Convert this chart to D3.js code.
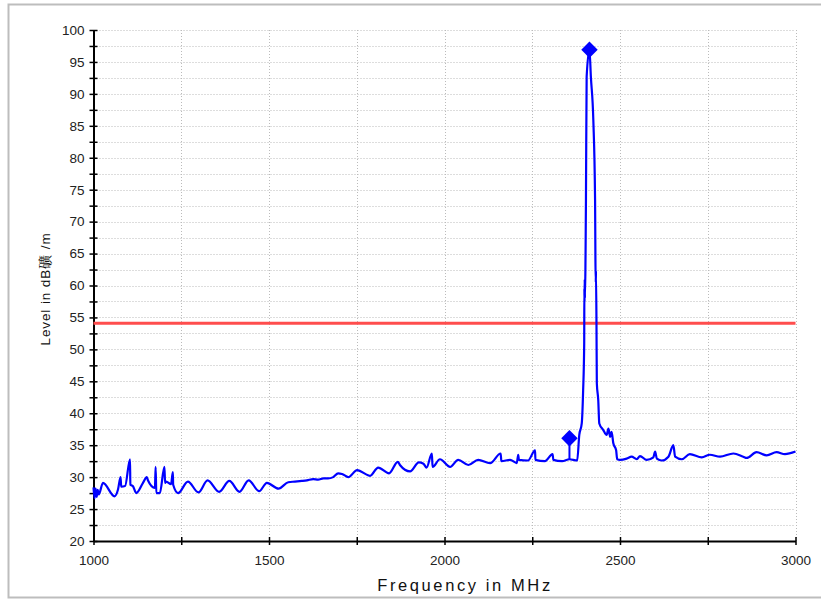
<!DOCTYPE html>
<html>
<head>
<meta charset="utf-8">
<script src="https://cdn.jsdelivr.net/npm/d3@7"></script>
<style>
  html, body { margin: 0; padding: 0; background: #fff; }
  svg { display: block; font-family: "Liberation Sans", Arial, sans-serif; }
</style>
</head>
<body>
<svg id="chart" width="821" height="599"></svg>
<script>
// ---- data ----
const freqMHz = [1000,1003,1006,1009,1012,1015,1027,1060,1070,1077,1079,1090,1104,1105,1112,1122,1141,1152,1155,1175,1177,1179,1189,1202,1204,1207,1221,1226,1227,1241,1269,1299,1325,1358,1387,1416,1442,1472,1494,1527,1555,1574,1593,1608,1626,1640,1655,1668,1683,1697,1708,1726,1751,1782,1788,1811,1842,1867,1873,1902,1927,1940,1949,1964,1966,1987,2016,2039,2068,2096,2130,2160,2162,2187,2206,2210,2212,2238,2258,2259,2286,2308,2310,2335,2356,2378,2384,2391,2395,2398,2398.5,2399,2399.5,2400,2403,2405,2413,2417,2424,2429,2430,2431,2431.5,2433,2434,2438,2441,2452,2462,2467,2472,2476,2481,2489,2492,2500,2519,2533,2548,2557,2576,2595,2600,2605,2619,2638,2652,2657,2676,2699,2733,2756,2785,2823,2851,2861,2889,2918,2946,2970,3000];
const levelDb = [28.4,26.7,28.2,26.9,28.0,27.3,29.1,27.0,28.1,30.0,28.5,28.6,32.8,28.8,28.6,27.5,29.1,30.0,29.5,28.3,31.6,27.5,27.5,31.6,29.1,29.3,28.9,30.8,28.8,27.5,29.3,27.6,29.5,27.7,29.4,27.7,29.5,27.8,29.1,28.2,29.2,29.3,29.4,29.5,29.7,29.6,29.8,29.8,30.0,30.6,30.5,30.0,31.1,30.3,30.2,31.5,30.6,32.4,31.9,30.9,32.3,32.1,31.5,33.7,31.6,32.8,31.6,32.7,31.9,32.7,32.2,33.7,32.5,32.7,32.2,33.5,32.7,32.6,34.2,32.7,32.5,33.6,32.7,32.5,32.8,32.6,36.6,38.4,43.6,50.9,59.5,57.5,61.0,58.0,73.4,92.7,96.9,92.7,85.9,73.4,64.0,60.5,62.3,54.1,44.7,42.1,38.4,37.4,36.6,37.6,36.3,37.1,35.3,34.2,32.8,32.7,32.9,33.2,32.8,33.3,32.7,33.1,34.0,32.9,32.6,33.2,35.0,33.2,32.8,33.6,33.1,33.5,33.2,33.7,33.2,33.0,33.9,33.4,33.9,33.6,34.0];

const markerFreq = [2413, 2356];
const markerLevel = [96.9, 36.1];
const markerBase = [96.9, 32.8];

const limitLevel = 54.1;

const xTicks = [1000,1250,1500,1750,2000,2250,2500,2750,3000];
const xTickLabels = ["1000","","1500","","2000","","2500","","3000"];
const yTicks = [20,22.5,25,27.5,30,32.5,35,37.5,40,42.5,45,47.5,50,52.5,55,57.5,60,62.5,65,67.5,70,72.5,75,77.5,80,82.5,85,87.5,90,92.5,95,97.5,100];
const yTickLabels = yTicks.map(v => v % 5 === 0 ? String(v) : "");

const xTitle = "Frequency in MHz";
const yTitle = "Level in dB礦 /m";

// ---- drawing ----
(function () {
const svg = d3.select("#chart");
const pLeft = 93.5, pRight = 795.5, pTop = 30, pBottom = 541;

const x = d3.scaleLinear().domain([1000, 3000]).range([pLeft, pRight]);
const y = d3.scaleLinear().domain([20, 100]).range([pBottom, pTop]);

// outer frame
svg.append("path")
  .attr("d", "M821,4.5 H8.5 V597.5 H821")
  .attr("fill", "none").attr("stroke", "#bdbdbd").attr("stroke-width", 2);

// grid
const grid = svg.append("g");
grid.selectAll("line.h").data(yTicks.filter(v => v > 20)).join("line")
  .attr("x1", pLeft).attr("x2", pRight)
  .attr("y1", d => Math.round(y(d)) + 0.5).attr("y2", d => Math.round(y(d)) + 0.5)
  .attr("stroke", "#bbbbbb").attr("stroke-width", 1).attr("stroke-dasharray", "1,2");
grid.selectAll("line.v").data(xTicks.filter(v => v > 1000)).join("line")
  .attr("y1", pTop).attr("y2", pBottom)
  .attr("x1", d => Math.round(x(d)) + 0.5).attr("x2", d => Math.round(x(d)) + 0.5)
  .attr("stroke", "#bbbbbb").attr("stroke-width", 1).attr("stroke-dasharray", "1,2");

// y axis
const yAxis = d3.axisLeft(y).tickValues(yTicks)
  .tickFormat((d, i) => yTickLabels[i]).tickSizeInner(4).tickSizeOuter(0).tickPadding(5);
const gy = svg.append("g").attr("transform", `translate(${pLeft},0)`).call(yAxis);
gy.select(".domain").attr("stroke", "#000").attr("stroke-width", 2);
gy.selectAll(".tick line").attr("x1", -4).attr("x2", 4).attr("stroke", "#000").attr("stroke-width", 1.5);
gy.selectAll(".tick text").attr("font-size", 13.5).attr("fill", "#222")
  .attr("font-family", "'Liberation Sans', Arial, sans-serif");

// x axis
const xAxis = d3.axisBottom(x).tickValues(xTicks)
  .tickFormat((d, i) => xTickLabels[i]).tickSizeInner(4).tickSizeOuter(0).tickPadding(10);
const gx = svg.append("g").attr("transform", `translate(0,${pBottom})`).call(xAxis);
gx.select(".domain").attr("stroke", "#000").attr("stroke-width", 2);
gx.selectAll(".tick line").attr("y1", -4).attr("y2", 4).attr("stroke", "#000").attr("stroke-width", 1.5);
gx.selectAll(".tick text").attr("font-size", 13.5).attr("fill", "#222")
  .attr("font-family", "'Liberation Sans', Arial, sans-serif");

// limit line
svg.append("line")
  .attr("x1", pLeft).attr("x2", pRight)
  .attr("y1", y(limitLevel)).attr("y2", y(limitLevel))
  .attr("stroke", "#ff4d4d").attr("stroke-width", 3);

// trace
const pts = freqMHz.map((f, i) => [f, levelDb[i]]);
const line = d3.line().curve(d3.curveMonotoneX).x(d => x(d[0])).y(d => y(d[1]));
svg.append("path").datum(pts)
  .attr("d", line)
  .attr("fill", "none").attr("stroke", "#0000ff").attr("stroke-width", 2.2)
  .attr("stroke-linejoin", "round");

// markers
const mk = svg.append("g");
markerFreq.forEach((f, i) => {
  mk.append("line")
    .attr("x1", x(f)).attr("x2", x(f))
    .attr("y1", y(markerLevel[i])).attr("y2", y(markerBase[i]))
    .attr("stroke", "#0000ff").attr("stroke-width", 2);
  mk.append("path")
    .attr("d", d3.symbol(d3.symbolSquare, 135)())
    .attr("transform", `translate(${x(f)},${y(markerLevel[i])}) rotate(45)`)
    .attr("fill", "#0000ff");
});

// titles
svg.append("text")
  .attr("x", 465).attr("y", 591)
  .attr("text-anchor", "middle")
  .attr("font-size", 16.5).attr("letter-spacing", 2.6).attr("fill", "#111")
  .text(xTitle);

svg.append("text")
  .attr("transform", `translate(50,289) rotate(-90)`)
  .attr("text-anchor", "middle")
  .attr("font-size", 13.5).attr("letter-spacing", 0.9).attr("fill", "#111")
  .text(yTitle);
})();
</script>
</body>
</html>
